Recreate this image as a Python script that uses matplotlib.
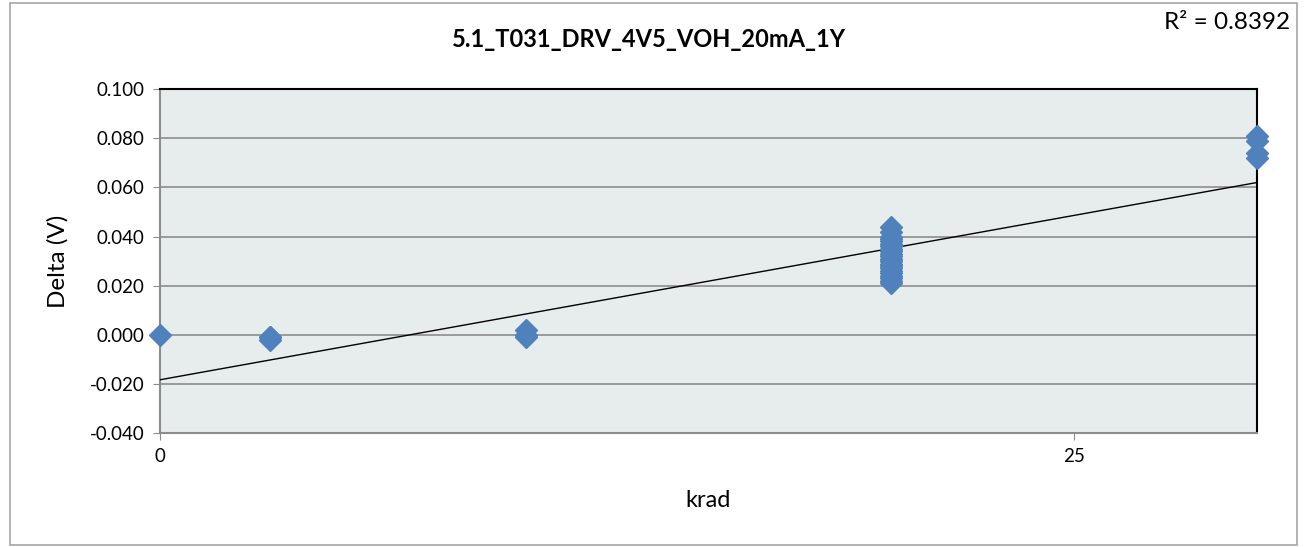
import numpy as np
import matplotlib
matplotlib.use("Agg")
from matplotlib import pyplot as plt
from matplotlib.patches import Rectangle

# ------------------------------------------------------------------
# data
# ------------------------------------------------------------------

TITLE = "5.1_T031_DRV_4V5_VOH_20mA_1Y"
R2_TEXT = "R\u00b2 = 0.8392"

krad_0 = [0]
delta_0 = [0.000]

krad_3 = [3, 3, 3]
delta_3 = [-0.001, -0.002, -0.001]

krad_10 = [10, 10, 10]
delta_10 = [0.002, 0.000, -0.001]

krad_20 = [20] * 22
delta_20 = [0.044, 0.042, 0.040, 0.039, 0.038, 0.037, 0.036, 0.035,
            0.034, 0.033, 0.032, 0.031, 0.030, 0.029, 0.028, 0.027,
            0.026, 0.025, 0.024, 0.023, 0.022, 0.021]

krad_30 = [30, 30, 30, 30]
delta_30 = [0.081, 0.079, 0.074, 0.072]

y_ticks = [-0.04, -0.02, 0.0, 0.02, 0.04, 0.06, 0.08, 0.10]
x_ticks = [0, 25]


def main():
    plt.rcParams['font.family'] = ['Lato', 'DejaVu Sans']

    x = np.array(krad_0 + krad_3 + krad_10 + krad_20 + krad_30, dtype=float)
    y = np.array(delta_0 + delta_3 + delta_10 + delta_20 + delta_30)

    fig = plt.figure(figsize=(13.06, 5.47), dpi=100)
    ax = fig.add_axes([0.1225, 0.2084, 0.840, 0.6286])

    # chart area border
    fig.patches.append(Rectangle((0.008, 0.004), 0.985, 0.99, transform=fig.transFigure,
                                 fill=False, edgecolor='#a6a6a6', linewidth=1.2))

    ax.set_facecolor('#e7ecec')
    ax.set_xlim(0, 30)
    ax.set_ylim(-0.04, 0.10)
    ax.set_yticks(y_ticks)
    ax.set_yticklabels(["%.3f" % v for v in y_ticks])
    ax.set_xticks(x_ticks)
    ax.grid(axis='y', color='#8c8c8c', linewidth=1.2)
    ax.set_axisbelow(True)

    # linear trend line
    slope, inter = np.polyfit(x, y, 1)
    xs = np.array([0, 30])
    ax.plot(xs, slope * xs + inter, color='black', linewidth=1.0, zorder=3)

    ax.plot(x, y, linestyle='none', marker='D', markersize=11,
            color='#4f81bd', markeredgecolor='#4f81bd', zorder=4, clip_on=False)

    for side in ['left', 'bottom']:
        ax.spines[side].set_color('#8c8c8c')
        ax.spines[side].set_linewidth(1.5)
    for side in ['top', 'right']:
        ax.spines[side].set_color('black')
        ax.spines[side].set_linewidth(1.5)

    ax.tick_params(axis='both', direction='out', length=5, color='#8c8c8c',
                   labelsize=13.5, pad=6)
    ax.set_ylabel("Delta (V)", fontsize=17.5, va='center')
    ax.set_xlabel("krad", fontsize=17, va='center')
    ax.yaxis.set_label_coords(-0.093, 0.5)
    ax.xaxis.set_label_coords(0.5, -0.195)

    fig.text(0.497, 0.927, TITLE, ha='center', va='center', fontsize=17,
             fontweight='bold')
    fig.text(0.988, 0.958, R2_TEXT, ha='right', va='center', fontsize=17.5)

    fig.savefig("out.png", dpi=100)


if __name__ == "__main__":
    main()
